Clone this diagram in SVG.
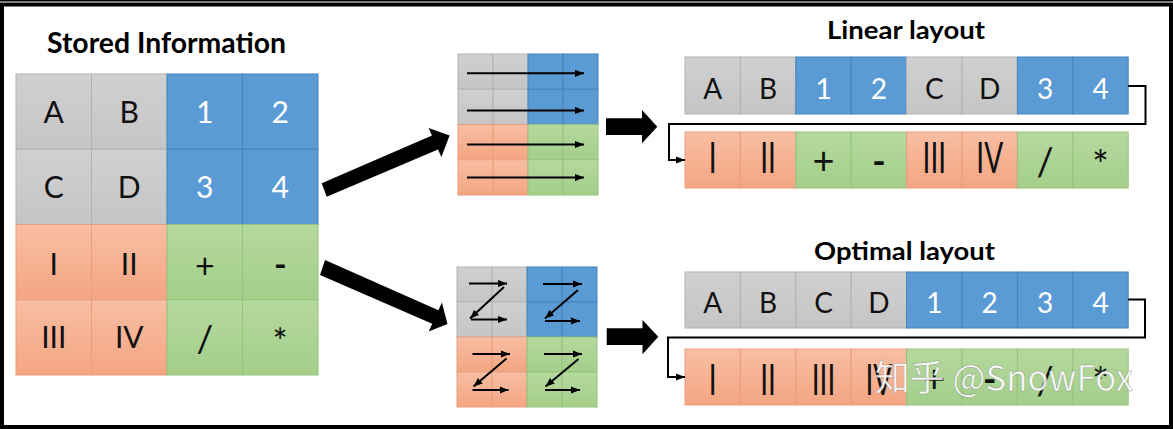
<svg xmlns="http://www.w3.org/2000/svg" width="1173" height="429" viewBox="0 0 1173 429">
<defs>
<linearGradient id="gGray" x1="0" y1="0" x2="0" y2="1"><stop offset="0" stop-color="#d0d0d0"/><stop offset="1" stop-color="#c5c5c5"/></linearGradient>
<linearGradient id="gOr" x1="0" y1="0" x2="0" y2="1"><stop offset="0" stop-color="#f8bea3"/><stop offset="1" stop-color="#f4a582"/></linearGradient>
<linearGradient id="gGr" x1="0" y1="0" x2="0" y2="1"><stop offset="0" stop-color="#b4d99e"/><stop offset="1" stop-color="#a4ce8a"/></linearGradient>
<marker id="ah" viewBox="0 0 10 8" refX="10" refY="4" markerWidth="4.5" markerHeight="3.6" orient="auto" markerUnits="strokeWidth"><path d="M0,0 L10,4 L0,8 z" fill="#000"/></marker>
</defs>
<style>
.g{fill:url(#gGray);stroke:#b2b2b2;stroke-width:1}
.b{fill:#5b9bd5;stroke:#4683bd;stroke-width:1}
.o{fill:url(#gOr);stroke:#e99d7e;stroke-width:1}
.n{fill:url(#gGr);stroke:#96c27c;stroke-width:1}
.t{font-family:Lato,"Liberation Sans",sans-serif;text-anchor:middle;fill:#111}
.big{font-size:30px}
.row{font-size:28px}
.w{fill:#fff}
.hy{font-weight:bold}
.title{font-family:Lato,"Liberation Sans",sans-serif;font-weight:bold;text-anchor:middle;fill:#000}
.ln{stroke:#000;stroke-width:2;fill:none;marker-end:url(#ah)}
.blk{fill:#000}
</style>
<rect x="0" y="0" width="1173" height="429" fill="#fff"/>
<rect x="2" y="4.5" width="1169" height="422.5" fill="none" stroke="#000" stroke-width="4"/>
<rect x="0" y="0" width="1173" height="1.5" fill="#000"/>

<g id="stored-information">
<text class="title" x="166.5" y="53" font-size="28" textLength="239" lengthAdjust="spacingAndGlyphs">Stored Information</text>
<rect class="g" x="16" y="74" width="75.5" height="75.25"/>
<rect class="g" x="91.5" y="74" width="75.5" height="75.25"/>
<rect class="b" x="167" y="74" width="75.5" height="75.25"/>
<rect class="b" x="242.5" y="74" width="75.5" height="75.25"/>
<rect class="g" x="16" y="149.25" width="75.5" height="75.25"/>
<rect class="g" x="91.5" y="149.25" width="75.5" height="75.25"/>
<rect class="b" x="167" y="149.25" width="75.5" height="75.25"/>
<rect class="b" x="242.5" y="149.25" width="75.5" height="75.25"/>
<rect class="o" x="16" y="224.5" width="75.5" height="75.25"/>
<rect class="o" x="91.5" y="224.5" width="75.5" height="75.25"/>
<rect class="n" x="167" y="224.5" width="75.5" height="75.25"/>
<rect class="n" x="242.5" y="224.5" width="75.5" height="75.25"/>
<rect class="o" x="16" y="299.75" width="75.5" height="75.25"/>
<rect class="o" x="91.5" y="299.75" width="75.5" height="75.25"/>
<rect class="n" x="167" y="299.75" width="75.5" height="75.25"/>
<rect class="n" x="242.5" y="299.75" width="75.5" height="75.25"/>
<g class="t big">
<text x="53.75" y="122.6">A</text><text x="129.25" y="122.6">B</text><text class="w" x="204.75" y="122.6">1</text><text class="w" x="280.25" y="122.6">2</text>
<text x="53.75" y="197.9">C</text><text x="129.25" y="197.9">D</text><text class="w" x="204.75" y="197.9">3</text><text class="w" x="280.25" y="197.9">4</text>
<text x="53.75" y="274.5">I</text><text x="129.25" y="274.5">II</text>
<text x="204.75" y="278" font-size="34">+</text><text class="hy" x="280.25" y="277" font-size="34">-</text>
<text x="53.75" y="348.4">III</text><text x="129.25" y="348.4">IV</text>
<text x="204.75" y="351.6" font-size="37">/</text><text x="280.25" y="354.7" font-size="36">*</text>
</g>
</g>

<g id="linear-grid">
<rect class="g" x="458" y="54" width="35" height="35.25"/>
<rect class="g" x="493" y="54" width="35" height="35.25"/>
<rect class="b" x="528" y="54" width="35" height="35.25"/>
<rect class="b" x="563" y="54" width="35" height="35.25"/>
<rect class="g" x="458" y="89.25" width="35" height="35.25"/>
<rect class="g" x="493" y="89.25" width="35" height="35.25"/>
<rect class="b" x="528" y="89.25" width="35" height="35.25"/>
<rect class="b" x="563" y="89.25" width="35" height="35.25"/>
<rect class="o" x="458" y="124.5" width="35" height="35.25"/>
<rect class="o" x="493" y="124.5" width="35" height="35.25"/>
<rect class="n" x="528" y="124.5" width="35" height="35.25"/>
<rect class="n" x="563" y="124.5" width="35" height="35.25"/>
<rect class="o" x="458" y="159.75" width="35" height="35.25"/>
<rect class="o" x="493" y="159.75" width="35" height="35.25"/>
<rect class="n" x="528" y="159.75" width="35" height="35.25"/>
<rect class="n" x="563" y="159.75" width="35" height="35.25"/>
<path class="ln" d="M467,73.3 H584"/>
<path class="ln" d="M467,110.5 H584"/>
<path class="ln" d="M467,144.5 H584"/>
<path class="ln" d="M467,177.5 H584"/>
</g>

<g id="z-order-grid">
<rect class="g" x="457" y="267" width="35" height="35"/>
<rect class="g" x="492" y="267" width="35" height="35"/>
<rect class="b" x="527" y="267" width="35" height="35"/>
<rect class="b" x="562" y="267" width="35" height="35"/>
<rect class="g" x="457" y="302" width="35" height="35"/>
<rect class="g" x="492" y="302" width="35" height="35"/>
<rect class="b" x="527" y="302" width="35" height="35"/>
<rect class="b" x="562" y="302" width="35" height="35"/>
<rect class="o" x="457" y="337" width="35" height="35"/>
<rect class="o" x="492" y="337" width="35" height="35"/>
<rect class="n" x="527" y="337" width="35" height="35"/>
<rect class="n" x="562" y="337" width="35" height="35"/>
<rect class="o" x="457" y="372" width="35" height="35"/>
<rect class="o" x="492" y="372" width="35" height="35"/>
<rect class="n" x="527" y="372" width="35" height="35"/>
<rect class="n" x="562" y="372" width="35" height="35"/>
<path class="ln" d="M469,283.5 H507"/>
<path class="ln" d="M504,287 L470,318.5"/>
<path class="ln" d="M471,319.5 H507"/>
<path class="ln" d="M543,284 H582"/>
<path class="ln" d="M578,290 L545,318.5"/>
<path class="ln" d="M545,321 H580"/>
<path class="ln" d="M472.5,354 H510"/>
<path class="ln" d="M506.5,358.5 L473.5,386.5"/>
<path class="ln" d="M472.5,390 H508.5"/>
<path class="ln" d="M544,354 H582"/>
<path class="ln" d="M578.5,359 L545.5,386.5"/>
<path class="ln" d="M545,390 H580"/>
</g>

<g id="linear-layout">
<text class="title" x="906" y="39" font-size="24.5" textLength="158" lengthAdjust="spacingAndGlyphs">Linear layout</text>
<rect class="g" x="685" y="57" width="55.4" height="57"/>
<rect class="g" x="740.4" y="57" width="55.4" height="57"/>
<rect class="b" x="795.8" y="57" width="55.4" height="57"/>
<rect class="b" x="851.2" y="57" width="55.4" height="57"/>
<rect class="g" x="906.6" y="57" width="55.4" height="57"/>
<rect class="g" x="962" y="57" width="55.4" height="57"/>
<rect class="b" x="1017.4" y="57" width="55.4" height="57"/>
<rect class="b" x="1072.8" y="57" width="55.4" height="57"/>
<rect class="o" x="685" y="132" width="55.4" height="56"/>
<rect class="o" x="740.4" y="132" width="55.4" height="56"/>
<rect class="n" x="795.8" y="132" width="55.4" height="56"/>
<rect class="n" x="851.2" y="132" width="55.4" height="56"/>
<rect class="o" x="906.6" y="132" width="55.4" height="56"/>
<rect class="o" x="962" y="132" width="55.4" height="56"/>
<rect class="n" x="1017.4" y="132" width="55.4" height="56"/>
<rect class="n" x="1072.8" y="132" width="55.4" height="56"/>
<g class="t row">
<text x="712.7" y="98.5">A</text><text x="768.1" y="98.5">B</text><text class="w" x="823.5" y="98.5">1</text><text class="w" x="878.9" y="98.5">2</text>
<text x="934.3" y="98.5">C</text><text x="989.7" y="98.5">D</text><text class="w" x="1045.1" y="98.5">3</text><text class="w" x="1100.5" y="98.5">4</text>
<text transform="translate(712.7,173.3) scale(1,1.5)">I</text>
<text transform="translate(768.1,173.3) scale(1,1.5)">II</text>
<text x="823.5" y="173.7" font-size="38">+</text>
<text class="hy" x="878.9" y="173.6" font-size="36">-</text>
<text transform="translate(934.3,173.3) scale(1,1.5)">III</text>
<text transform="translate(989.7,173.3) scale(1,1.5)">IV</text>
<text x="1045.1" y="176.3" font-size="38">/</text>
<text x="1100.5" y="180" font-size="40">*</text>
</g>
</g>

<g id="optimal-layout">
<text class="title" x="904.5" y="260" font-size="24.5" textLength="181" lengthAdjust="spacingAndGlyphs">Optimal layout</text>
<rect class="g" x="685" y="272" width="55.4" height="56"/>
<rect class="g" x="740.4" y="272" width="55.4" height="56"/>
<rect class="g" x="795.8" y="272" width="55.4" height="56"/>
<rect class="g" x="851.2" y="272" width="55.4" height="56"/>
<rect class="b" x="906.6" y="272" width="55.4" height="56"/>
<rect class="b" x="962" y="272" width="55.4" height="56"/>
<rect class="b" x="1017.4" y="272" width="55.4" height="56"/>
<rect class="b" x="1072.8" y="272" width="55.4" height="56"/>
<rect class="o" x="685" y="349" width="55.4" height="56"/>
<rect class="o" x="740.4" y="349" width="55.4" height="56"/>
<rect class="o" x="795.8" y="349" width="55.4" height="56"/>
<rect class="o" x="851.2" y="349" width="55.4" height="56"/>
<rect class="n" x="906.6" y="349" width="55.4" height="56"/>
<rect class="n" x="962" y="349" width="55.4" height="56"/>
<rect class="n" x="1017.4" y="349" width="55.4" height="56"/>
<rect class="n" x="1072.8" y="349" width="55.4" height="56"/>
<g class="t row">
<text x="712.7" y="313">A</text><text x="768.1" y="313">B</text><text x="823.5" y="313">C</text><text x="878.9" y="313">D</text>
<text class="w" x="934.3" y="313">1</text><text class="w" x="989.7" y="313">2</text><text class="w" x="1045.1" y="313">3</text><text class="w" x="1100.5" y="313">4</text>
<text transform="translate(712.7,395) scale(1,1.5)">I</text>
<text transform="translate(768.1,395) scale(1,1.5)">II</text>
<text transform="translate(823.5,395) scale(1,1.5)">III</text>
<text transform="translate(878.9,395) scale(1,1.5)">IV</text>
<text x="934.3" y="391.7" font-size="38">+</text>
<text class="hy" x="989.7" y="391.6" font-size="36">-</text>
<text x="1045.1" y="395" font-size="38">/</text>
<text x="1100.5" y="397" font-size="40">*</text>
</g>
</g>

<g id="connectors">
<polygon class="blk" points="321.7,183.3 432,135.6 428.6,127.9 449.6,135.4 441.4,157.1 438,149.4 326.7,196.7"/>
<polygon class="blk" points="325,260 438.4,310.2 441.9,302.4 447.5,324 428.7,331.6 432.2,323.8 320,275"/>
<polygon class="blk" points="606,118.3 642,118.3 642,110 657.3,126.7 642,143.3 642,135 606,135"/>
<polygon class="blk" points="606.7,328.3 642.5,328.3 642.5,320 658.3,336.7 642.5,354.3 642.5,345 606.7,345"/>
<path class="ln" d="M1128.2,86 H1145.5 V124 H669 V160 H685"/>
<path class="ln" d="M1128.2,299.5 H1145 V337.5 H668 V377 H685"/>
</g>

<text x="875" y="391" font-family="'Noto Sans CJK SC','Noto Sans',sans-serif" font-size="36" fill="#fff" fill-opacity="0.9" stroke="#666" stroke-width="0.5" stroke-opacity="0.6" textLength="258" lengthAdjust="spacingAndGlyphs">知乎 @SnowFox</text>
</svg>
